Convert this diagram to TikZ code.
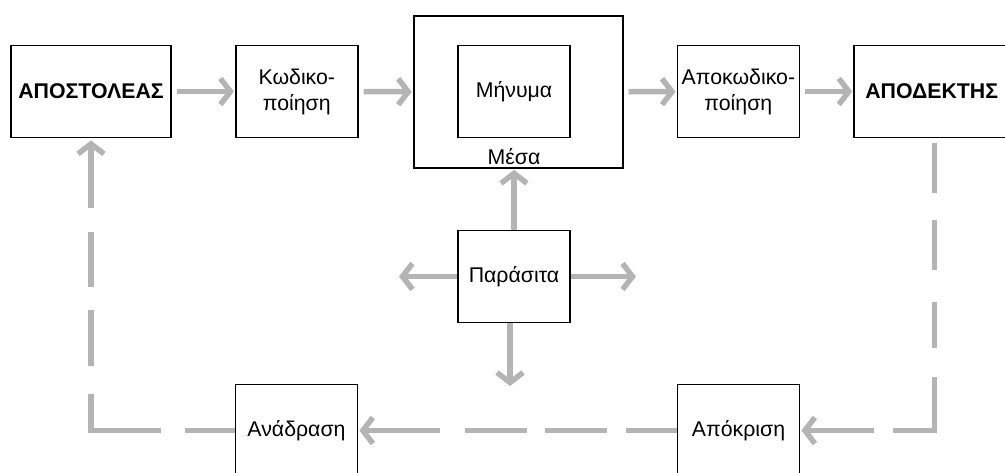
\documentclass[tikz,border=0pt]{standalone}
\usepackage{fontspec}
\setmainfont{Liberation Sans}
\usepackage{tikz}
\usetikzlibrary{positioning, arrows.meta}
\definecolor{flowgray}{RGB}{180,180,180}

\begin{document}
\begin{tikzpicture}[x=1pt, y=-1pt,
line width=1.8pt,
font=\fontsize{21.3}{26}\selectfont,
block/.style={draw, fill=white, rectangle, align=center, minimum width=122pt, minimum height=92pt, inner sep=2pt},
flow/.style={draw=flowgray, line width=5.5pt, -{Straight Barb[length=10pt, width=26pt]}, shorten >=1pt},
back/.style={draw=flowgray, line width=5.5pt, {Straight Barb[length=10pt, width=26pt]}-, shorten <=1pt}]

\useasboundingbox (0,0) rectangle (1005,472);

% main chain
\node[block, minimum width=160pt, font=\fontsize{21.3}{26}\selectfont\bfseries] (S) at (91,91.5) {ΑΠΟΣΤΟΛΕΑΣ};
\node[block]							(C)[right=63pt of S]		{Κωδικο-\\ποίηση};
\node[block, minimum width=209pt, minimum height=152pt]	(M)[right=54pt of C, yshift=-0.5pt]	{};
\node[block, minimum width=112pt]		(B) at (514,91.5)		{Μήνυμα};
\node[draw=none, fill=none]			(L) at (514,157)		{Μέσα};
\node[block]							(D)[right=53pt of M, yshift=0.5pt]	{Αποκωδικο-\\ποίηση};
\node[block, minimum width=155pt, font=\fontsize{21.3}{26}\selectfont\bfseries] (R)[right=53pt of D]	{ΑΠΟΔΕΚΤΗΣ};

% noise and feedback
\node[block, minimum width=112pt]		(N) at (514,276.5)		{Παράσιτα};
\node[block]							(A) at (738.5,430.5)	{Απόκριση};
\node[block]							(F) at (296.5,430.5)	{Ανάδραση};

\coordinate (nl) at (398,276.5);
\coordinate (nr) at (637,276.5);
\coordinate (nd) at (510,387);

\path[flow, shorten <=5pt]
 (S) edge (C)
 (C) edge (M)
 (M) edge (D)
 (D) edge (R);

\draw[flow] (N.north) -- (N.north |- M.south);
\draw[flow] (N) -- (nl);
\draw[flow] (N) -- (nr);
\draw[flow] ([xshift=-4pt]N.south) -- (nd);

% dashed return path, drawn from the tip back so each tip sits on a dash
\draw[back, shorten >=5pt, dash pattern=on 66pt off 19pt on 96pt off 29pt on 46pt off 32pt on 50pt off 27pt on 60pt off 20pt]
 (A) -| ([xshift=3pt]R.south);
\draw[back, dash pattern=on 74pt off 25pt on 62pt off 18pt on 62pt off 19pt on 60pt off 20pt]
 (F) -- (A);
\draw[back, shorten <=2pt, dash pattern=on 61pt off 24pt on 55pt off 23pt on 56pt off 28pt on 107pt off 24pt on 52pt off 20pt]
 (S) |- (F);

\end{tikzpicture}
\end{document}
